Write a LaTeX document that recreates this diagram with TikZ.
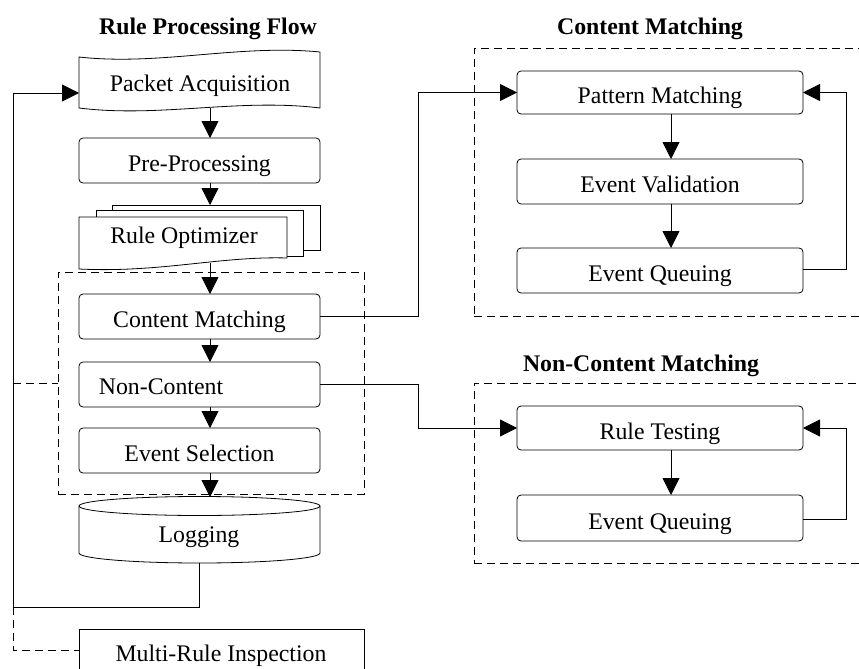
\documentclass[tikz,border=0pt]{standalone}
\usepackage{fontspec}
\setmainfont{Liberation Serif}
\usetikzlibrary{arrows.meta}
\begin{document}
\begin{tikzpicture}[x=1pt,y=-1pt, line width=0.8pt,
  every node/.style={font=\fontsize{23.8pt}{28pt}\selectfont, inner sep=0pt, outer sep=0pt},
  arr/.style={-{Triangle[length=17pt,width=17pt]}},
  grpbox/.style={draw, dash pattern=on 8pt off 5pt},
  box/.style={draw, rounded corners=4pt, minimum height=45pt, text height=22.7pt, text depth=0pt},
  lbox/.style={box, minimum width=241pt},
  rbox/.style={box, minimum width=286pt},
  ttl/.style={font=\bfseries\fontsize{23.8pt}{28pt}\selectfont, anchor=base}]
\useasboundingbox (0,0) rectangle (859,669);
\clip (0,0) rectangle (859,669);

% titles
\node[ttl] (t1) at (208,35) {Rule Processing Flow};
\node[ttl] (t2) at (650,35) {Content Matching};
\node[ttl] (t3) at (641,371) {Non-Content Matching};

% dashed groups
\node[grpbox, minimum width=306pt, minimum height=222pt] (grp) at (211,383) {};
\node[grpbox, minimum width=400pt, minimum height=268pt] (cmgrp) at (674,182) {};
\node[grpbox, minimum width=400pt, minimum height=180pt] (ncgrp) at (674,473) {};

% Packet Acquisition (tape shape)
\node[minimum width=241pt, minimum height=51pt] (pa) at (199.5,82.5) {};
\draw (79,57) .. controls (159,66) and (239,44) .. (320,52) -- (320,108)
      .. controls (239,98) and (159,118) .. (79,108) -- cycle;
\node[anchor=base] (pat) at (200,91.4) {Packet Acquisition};

% Pre-Processing
\node[lbox] (pre) at (199.5,160.5) {Pre-Processing};

% Rule Optimizer (multi-document)
\node[minimum width=241pt, minimum height=58pt] (ro) at (199.5,234) {};
\draw (112,210.5) -- (112,205) -- (320,205) -- (320,250) -- (303,250);
\draw (96,217) -- (96,210.5) -- (303,210.5) -- (303,256) -- (287,256);
\draw (79,217) -- (287,217) -- (287,258) .. controls (220,256) and (160,273) .. (79,269) -- cycle;
\node[anchor=base] (rot) at (184,243.9) {Rule Optimizer};

% inner steps
\node[lbox] (cm) at (199.5,316.5) {Content Matching};
\node[lbox] (nc) at (199.5,384.5) {};
\node[anchor=base] (nct) at (161,394.4) {Non-Content};
\node[lbox] (es) at (199.5,450.5) {Event Selection};

% Logging (cylinder)
\node[minimum width=241pt, minimum height=66pt] (log) at (199.5,530) {};
\draw (79,506) -- (79,553) arc[start angle=180,end angle=360,x radius=120.5pt,y radius=10pt] -- (320,506);
\draw (199.5,506) ellipse [x radius=120.5pt, y radius=9.5pt];
\node[anchor=base] (logt) at (199,542.9) {Logging};

% Multi-Rule Inspection
\node[draw, minimum width=285pt, minimum height=70pt] (mri) at (221.5,664) {};
\node[anchor=base] (mrit) at (221,661) {Multi-Rule Inspection};

% right side boxes
\node[rbox, minimum height=43pt] (pm) at (660,92.5) {Pattern Matching};
\node[rbox] (ev) at (660,181.5) {Event Validation};
\node[rbox] (eq) at (660,270.5) {Event Queuing};
\node[rbox, minimum height=44pt] (rt) at (660,428) {Rule Testing};
\node[rbox, minimum height=46pt] (eq2) at (660,518) {Event Queuing};

% left column arrows
\draw[arr] ([xshift=10.5pt]pa.south) -- ([xshift=10.5pt]pre.north);
\draw[arr] ([xshift=10.5pt]pre.south) -- ([xshift=10.5pt]ro.north);
\draw[arr] ([xshift=10.5pt]ro.south) -- ([xshift=10.5pt]cm.north);
\draw[arr] ([xshift=10.5pt]cm.south) -- ([xshift=10.5pt]nc.north);
\draw[arr] ([xshift=10.5pt]nc.south) -- ([xshift=10.5pt]es.north);
\draw[arr] ([xshift=10.5pt]es.south) -- ([xshift=10.5pt]log.north);

% feedback loop on the left
\coordinate (lb) at (13,607);
\coordinate (lt) at (13,93);
\coordinate (ld) at (13,383);
\coordinate (lm) at (13,650);
\draw[arr] (log.south) |- (lb) -- (lt) -- (lt -| pa.west);
\draw[grpbox] (ld) -- (ld -| grp.west);
\draw[grpbox] (lb) -- (lm) -- (lm -| mri.west);

% connectors to right groups
\coordinate (j1) at (418,316.5);
\coordinate (j2) at (418,384.5);
\draw[arr] (cm.east) -- (j1) |- (pm.west);
\draw[arr] (nc.east) -- (j2) |- (rt.west);

% right column arrows
\draw[arr] ([xshift=11pt]pm.south) -- ([xshift=11pt]ev.north);
\draw[arr] ([xshift=11pt]ev.south) -- ([xshift=11pt]eq.north);
\draw[arr] ([xshift=11pt]rt.south) -- ([xshift=11pt]eq2.north);

% right feedback loops
\coordinate (f1) at (846,200);
\draw[arr] ([yshift=1.5pt]eq.east) -- ([yshift=1.5pt]eq.east -| f1) |- (pm.east);
\draw[arr] ([yshift=-1pt]eq2.east) -- ([yshift=-1pt]eq2.east -| f1) |- (rt.east);
\end{tikzpicture}
\end{document}
